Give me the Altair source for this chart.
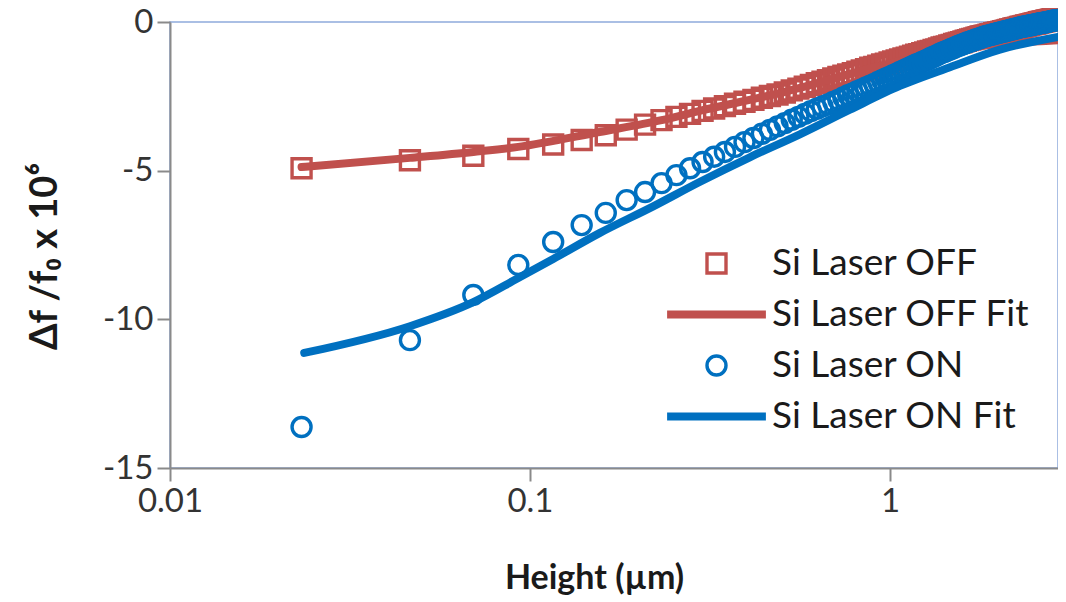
import altair as alt
import pandas as pd

# Heights (µm) of the measured points
heights = [
    0.0232, 0.0464, 0.0696, 0.0928, 0.1160, 0.1392, 0.1624, 0.1856, 0.2088, 0.2320,
    0.2552, 0.2784, 0.3016, 0.3248, 0.3480, 0.3712, 0.3944, 0.4176, 0.4408, 0.4640,
    0.4872, 0.5104, 0.5336, 0.5568, 0.5800, 0.6032, 0.6264, 0.6496, 0.6728, 0.6960,
    0.7192, 0.7424, 0.7656, 0.7888, 0.8120, 0.8352, 0.8584, 0.8816, 0.9048, 0.9280,
    0.9512, 0.9744, 0.9976, 1.0208, 1.0440, 1.0672, 1.0904, 1.1136, 1.1368, 1.1600,
    1.1832, 1.2064, 1.2296, 1.2528, 1.2760, 1.2992, 1.3224, 1.3456, 1.3688, 1.3920,
    1.4152, 1.4384, 1.4616, 1.4848, 1.5080, 1.5312, 1.5544, 1.5776, 1.6008, 1.6240,
    1.6472, 1.6704, 1.6936, 1.7168, 1.7400, 1.7632, 1.7864, 1.8096, 1.8328, 1.8560,
    1.8792, 1.9024, 1.9256, 1.9488, 1.9720, 1.9952, 2.0184, 2.0416, 2.0648, 2.0880,
    2.1112, 2.1344, 2.1576, 2.1808, 2.2040, 2.2272, 2.2504, 2.2736, 2.2968, 2.3200,
    2.3432, 2.3664, 2.3896, 2.4128, 2.4360, 2.4592, 2.4824, 2.5056, 2.5288, 2.5520,
    2.5752, 2.5984, 2.6216, 2.6448, 2.6680, 2.6912, 2.7144, 2.7376, 2.7608, 2.7840,
    2.8072, 2.8304, 2.8536, 2.8768, 2.9000, 2.9232,
]

off_vals = [
    -4.92, -4.65, -4.50, -4.27, -4.12, -3.97, -3.81, -3.62, -3.45, -3.30,
    -3.19, -3.09, -2.99, -2.91, -2.83, -2.75, -2.68, -2.62, -2.55, -2.49,
    -2.44, -2.37, -2.30, -2.24, -2.18, -2.12, -2.06, -2.01, -1.96, -1.90,
    -1.85, -1.81, -1.76, -1.72, -1.67, -1.63, -1.59, -1.54, -1.51, -1.47,
    -1.43, -1.40, -1.36, -1.33, -1.29, -1.26, -1.23, -1.20, -1.17, -1.13,
    -1.10, -1.08, -1.05, -1.02, -0.99, -0.97, -0.94, -0.92, -0.89, -0.86,
    -0.84, -0.82, -0.79, -0.77, -0.74, -0.72, -0.70, -0.68, -0.65, -0.63,
    -0.61, -0.59, -0.57, -0.55, -0.53, -0.51, -0.49, -0.48, -0.46, -0.45,
    -0.43, -0.41, -0.40, -0.38, -0.37, -0.35, -0.34, -0.33, -0.31, -0.30,
    -0.28, -0.27, -0.25, -0.24, -0.22, -0.21, -0.20, -0.19, -0.17, -0.16,
    -0.15, -0.13, -0.12, -0.11, -0.10, -0.08, -0.07, -0.06, -0.05, -0.04,
    -0.02, -0.01, 0.00, 0.01, 0.02, 0.03, 0.04, 0.05, 0.06, 0.07,
    0.08, 0.09, 0.10, 0.11, 0.12, 0.13,
]

on_vals = [
    -13.62, -10.70, -9.18, -8.17, -7.40, -6.83, -6.42, -5.99, -5.72, -5.42,
    -5.15, -4.92, -4.71, -4.53, -4.37, -4.20, -4.04, -3.90, -3.76, -3.63,
    -3.51, -3.40, -3.29, -3.19, -3.09, -3.00, -2.92, -2.84, -2.77, -2.69,
    -2.62, -2.54, -2.46, -2.40, -2.33, -2.27, -2.20, -2.14, -2.08, -2.02,
    -1.96, -1.90, -1.85, -1.79, -1.74, -1.68, -1.63, -1.58, -1.53, -1.48,
    -1.43, -1.39, -1.34, -1.30, -1.26, -1.21, -1.17, -1.13, -1.08, -1.04,
    -1.01, -0.97, -0.94, -0.90, -0.87, -0.83, -0.80, -0.77, -0.74, -0.71,
    -0.68, -0.66, -0.63, -0.61, -0.58, -0.56, -0.54, -0.51, -0.49, -0.47,
    -0.45, -0.44, -0.42, -0.40, -0.39, -0.37, -0.36, -0.34, -0.33, -0.31,
    -0.30, -0.28, -0.27, -0.25, -0.24, -0.23, -0.21, -0.20, -0.18, -0.17,
    -0.16, -0.15, -0.14, -0.13, -0.12, -0.11, -0.10, -0.09, -0.08, -0.07,
    -0.06, -0.05, -0.04, -0.03, -0.02, -0.02, -0.01, 0.00, 0.01, 0.02,
    0.03, 0.04, 0.05, 0.05, 0.06, 0.07,
]

off_fit_h = [0.0232, 0.0464, 0.0696, 0.0928, 0.156, 0.232, 0.296, 0.494, 0.938, 1.468, 2.02, 2.93]
off_fit_v = [-4.88, -4.57, -4.37, -4.20, -3.70, -3.30, -2.99, -2.39, -1.48, -0.94, -0.74, -0.61]

on_fit_h = [0.0236, 0.0464, 0.0696, 0.0928, 0.116, 0.156, 0.220, 0.296, 0.408, 0.562, 0.774, 1.066, 1.468, 2.02, 2.93]
on_fit_v = [-11.13, -10.23, -9.42, -8.61, -7.97, -7.10, -6.20, -5.38, -4.55, -3.78, -2.95, -2.15, -1.52, -0.93, -0.50]

series_names = ["Si Laser OFF", "Si Laser OFF Fit", "Si Laser ON", "Si Laser ON Fit"]
series_colors = ["#C0504D", "#C0504D", "#0070C0", "#0070C0"]
LINE_SYMBOL = "M-5.2,0H5.2"
series_shapes = ["square", LINE_SYMBOL, "circle", LINE_SYMBOL]
series_widths = [3.4, 8, 3.4, 8]

off_df = pd.DataFrame({"h": heights, "v": off_vals, "s": series_names[0]})
on_df = pd.DataFrame({"h": heights, "v": on_vals, "s": series_names[2]})
off_fit_df = pd.DataFrame({"h": off_fit_h, "v": off_fit_v, "s": series_names[1]})
on_fit_df = pd.DataFrame({"h": on_fit_h, "v": on_fit_v, "s": series_names[3]})

FONT = "Lato"

x_enc = alt.X(
    "h:Q",
    scale=alt.Scale(type="log", domain=[0.01, 2.93], nice=False),
    axis=alt.Axis(
        values=[0.01, 0.1, 1],
        labelExpr="toString(datum.value)",
        labelFlush=False,
        title="Height (µm)",
        titleX=424,
        titleY=120,
        titleBaseline="alphabetic",
    ),
)
y_enc = alt.Y(
    "v:Q",
    scale=alt.Scale(domain=[-15, 0], nice=False, zero=False),
    axis=alt.Axis(
        values=[0, -5, -10, -15],
        labelExpr="toString(datum.value)",
        labelFlush=False,
        title="Δf /f₀ x 10⁶",
        titleFontSize=38,
        titleAngle=270,
        titleX=-114,
        titleY=234,
        titleBaseline="alphabetic",
    ),
)

legend = alt.Legend(
    title=None,
    orient="none",
    legendX=528,
    legendY=223,
    padding=0,
    labelFont=FONT,
    labelFontSize=37,
    labelColor="#1a1a1a",
    labelOffset=37,
    labelLimit=500,
    rowPadding=13,
    symbolSize=361,
)

color_enc = alt.Color("s:N", scale=alt.Scale(domain=series_names, range=series_colors), legend=legend)
shape_enc = alt.Shape("s:N", scale=alt.Scale(domain=series_names, range=series_shapes), legend=legend)
sw_enc = alt.StrokeWidth("s:N", scale=alt.Scale(type="ordinal", domain=series_names, range=series_widths), legend=legend)


def points(df):
    return alt.Chart(df).mark_point(filled=False, opacity=1, size=361).encode(
        x=x_enc, y=y_enc, color=color_enc, shape=shape_enc, strokeWidth=sw_enc
    )


def fit(df):
    return alt.Chart(df).mark_line(interpolate="monotone", strokeCap="round").encode(
        x=x_enc, y=y_enc, color=color_enc, strokeWidth=sw_enc
    )


chart = alt.layer(
    points(off_df), fit(off_fit_df), points(on_df), fit(on_fit_df)
).properties(
    width=888,
    height=446,
    autosize=alt.AutoSizeParams(type="none"),
    padding={"left": 162, "top": 14, "right": 0, "bottom": 132},
).configure_view(
    stroke="#8FAADC", strokeWidth=1.5
).configure_axis(
    grid=False,
    labelFont=FONT,
    labelFontSize=33,
    labelColor="#333333",
    titleFont=FONT,
    titleFontSize=34,
    titleFontWeight="bold",
    titleColor="#1a1a1a",
    domainColor="#8a8a8a",
    domainWidth=2,
    tickColor="#8a8a8a",
    tickWidth=2,
    tickSize=13,
    labelPadding=4,
)

chart.save("out.html", embed_options={"renderer": "svg", "actions": False})
